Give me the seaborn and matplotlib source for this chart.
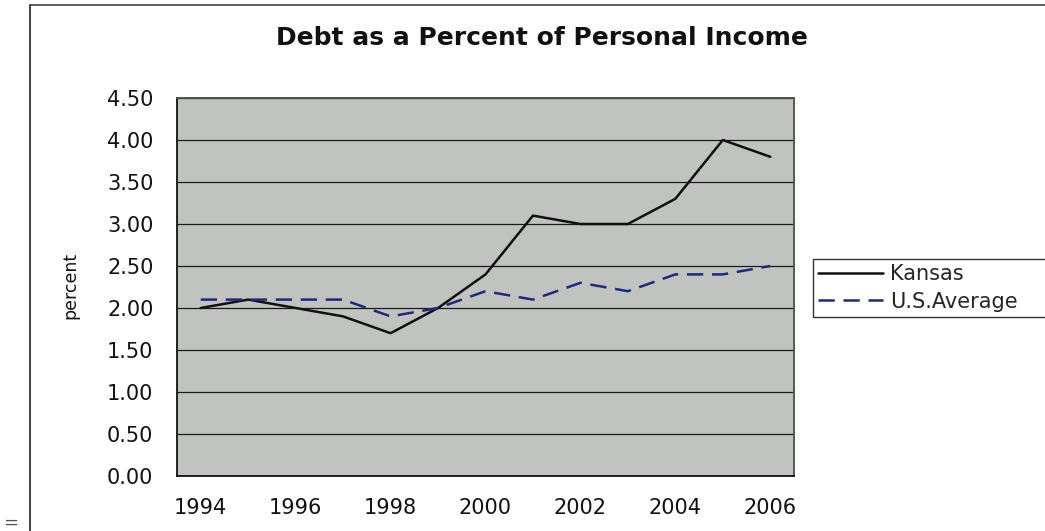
import numpy as np
import pandas as pd
import matplotlib
matplotlib.use("Agg")
import matplotlib.pyplot as plt
from matplotlib.ticker import FixedLocator, FormatStrFormatter
from matplotlib.lines import Line2D
import seaborn as sns

years = [1994, 1995, 1996, 1997, 1998, 1999, 2000, 2001, 2002, 2003, 2004, 2005, 2006]
kansas = [2.0, 2.1, 2.0, 1.9, 1.7, 2.0, 2.4, 3.1, 3.0, 3.0, 3.3, 4.0, 3.8]
us_avg = [2.1, 2.1, 2.1, 2.1, 1.9, 2.0, 2.2, 2.1, 2.3, 2.2, 2.4, 2.4, 2.5]
series_names = ["Kansas", "U.S.Average"]
x_labels = [1994, 1996, 1998, 2000, 2002, 2004, 2006]
y_ticks = [0.0, 0.5, 1.0, 1.5, 2.0, 2.5, 3.0, 3.5, 4.0, 4.5]

sns.set_theme(style="white")
plt.rcParams['font.family'] = ['DejaVu Sans']

df = pd.DataFrame({
    "year": years * 2,
    "value": kansas + us_avg,
    "series": [series_names[0]] * len(years) + [series_names[1]] * len(years),
})

W, H = 1045, 531
fig = plt.figure(figsize=(W / 100, H / 100), dpi=100)
fig.patch.set_facecolor("white")
L, R, T, B = 177, 794, 98, 476
ax = fig.add_axes([L / W, 1 - B / H, (R - L) / W, (B - T) / H])
ax.set_facecolor("#c1c3c1")

palette = {"Kansas": "#111111", "U.S.Average": "#1c2a78"}
DASH = (6.5, 3.5)
sns.lineplot(data=df[df.series == "Kansas"], x="year", y="value", ax=ax,
             color=palette["Kansas"], linewidth=1.8, legend=False)
sns.lineplot(data=df[df.series == "U.S.Average"], x="year", y="value", ax=ax,
             color=palette["U.S.Average"], linewidth=1.8, legend=False)
ax.lines[1].set_dashes(DASH)

ax.set_xlim(years[0] - 0.5, years[-1] + 0.5)
ax.set_ylim(0, 4.5)
ax.yaxis.set_major_locator(FixedLocator(y_ticks))
ax.yaxis.set_major_formatter(FormatStrFormatter("%.2f"))
ax.xaxis.set_major_locator(FixedLocator(x_labels))
ax.set_xticklabels([str(v) for v in x_labels])
ax.xaxis.set_minor_locator(FixedLocator([y - 0.5 for y in years] + [years[-1] + 0.5]))
ax.tick_params(axis="x", which="major", length=0, labelsize=15, pad=16, labelcolor="#111111")
ax.tick_params(axis="x", which="minor", length=6, width=1, direction="out", color="black")
ax.tick_params(axis="y", which="major", length=6, width=1, direction="out", labelsize=15,
               pad=11, color="black", labelcolor="#111111")

ax.grid(axis="y", color="#1a1a1a", linewidth=0.9)
ax.grid(axis="x", visible=False)
ax.set_axisbelow(True)
for s in ["left", "bottom"]:
    ax.spines[s].set_color("black")
    ax.spines[s].set_linewidth(1.2)
for s in ["top", "right"]:
    ax.spines[s].set_color("#4a4f4a")
    ax.spines[s].set_linewidth(1.3)

ax.set_xlabel("")
ax.set_ylabel("")
fig.text(70 / W, 1 - 285 / H, "percent", rotation=90, ha="center", va="center",
         fontsize=12.5, color="#111111")

fig.text(542 / W, 1 - 38 / H, "Debt as a Percent of Personal Income", ha="center",
         va="center", fontsize=18, fontweight="bold", color="#111111")

handles = [Line2D([0], [0], color=palette["Kansas"], linewidth=1.8),
           Line2D([0], [0], color=palette["U.S.Average"], linewidth=1.8, dashes=DASH)]
leg = fig.legend(handles, series_names, loc="upper left", mode="expand",
                 bbox_to_anchor=(813 / W, 1 - 317 / H, 0.3, 58 / H), frameon=True,
                 fancybox=False, fontsize=15, handlelength=3.1, handletextpad=0.35,
                 borderpad=0.25, labelspacing=0.35, borderaxespad=0)
leg.get_frame().set_edgecolor("black")
leg.get_frame().set_linewidth(1.0)
leg.get_frame().set_facecolor("white")

# outer chart border
fig.add_artist(Line2D([30 / W, 30 / W], [0, 1 - 5 / H], transform=fig.transFigure,
                      color="#222222", linewidth=1.2))
fig.add_artist(Line2D([30 / W, 1], [1 - 5 / H, 1 - 5 / H], transform=fig.transFigure,
                      color="#444444", linewidth=1.2))
fig.text(11 / W, 1 - 523 / H, "=", ha="center", va="center", fontsize=13, color="#555555")

fig.savefig("out.png", dpi=100)
